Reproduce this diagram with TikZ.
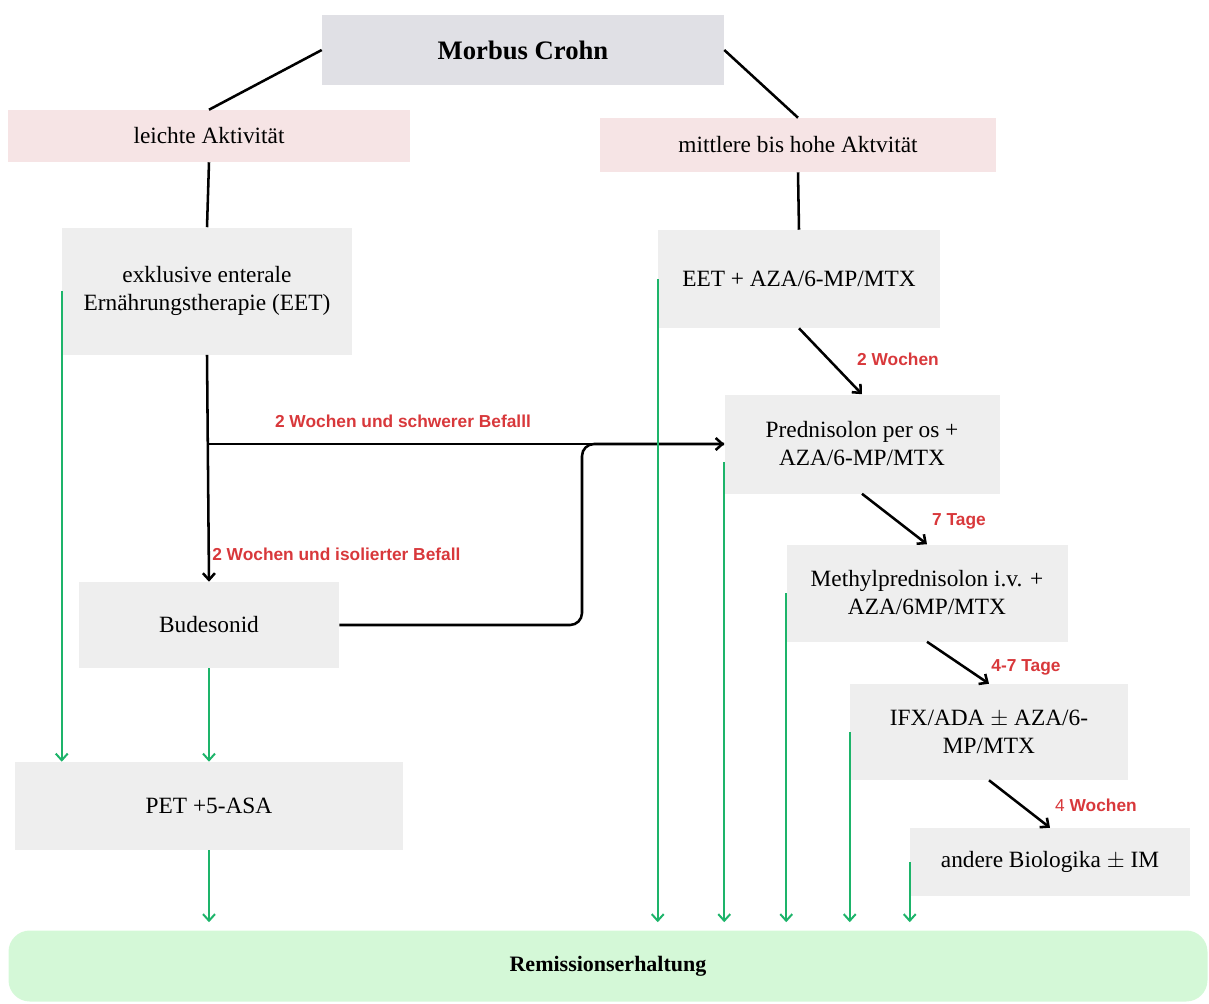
\documentclass[tikz,border=0pt]{standalone}
\usepackage{fontspec}
\setmainfont{Liberation Serif}
\newfontfamily\lblfont{Liberation Sans}
\usetikzlibrary{arrows.meta,positioning}
\definecolor{boxgray}{HTML}{EEEEEE}
\definecolor{headgray}{HTML}{E0E0E5}
\definecolor{actpink}{HTML}{F6E4E5}
\definecolor{remgreen}{HTML}{D4F8D7}
\definecolor{arrgreen}{HTML}{1DB46A}
\definecolor{lblred}{HTML}{D8383B}

\begin{document}
\begin{tikzpicture}[x=0.75pt,y=-0.75pt,
    box/.style={fill=boxgray, align=center, inner sep=0pt, font=\fontsize{17.5}{21}\selectfont},
    actbox/.style={box, fill=actpink},
    lbl/.style={text=lblred, font=\lblfont\fontsize{13}{15}\selectfont\bfseries, inner sep=0pt},
    link/.style={line width=1.9pt},
    arr/.style={link, -{Straight Barb[length=5pt,width=9pt]}},
    garr/.style={line width=1.5pt, arrgreen, -{Straight Barb[length=5pt,width=9pt]}}]
  \useasboundingbox (0,0) rectangle (1209,1003);
  % top and activity levels
  \node[box, fill=headgray, minimum width=0.75*402, minimum height=0.75*70,
        font=\fontsize{20}{24}\selectfont\bfseries] (mc) at (523,50) {Morbus Crohn};
  \node[actbox, minimum width=0.75*402, minimum height=0.75*52] (la) at (209,136) {leichte Aktivität};
  \node[actbox, minimum width=0.75*396, minimum height=0.75*54] (ma) at (798,145) {mittlere bis hohe Aktvität};
  % therapy boxes
  \node[box, minimum width=0.75*290, minimum height=0.75*127] (eet) at (207,291) {exklusive enterale\\Ernährungstherapie (EET)};
  \node[box, minimum width=0.75*282, minimum height=0.75*98] (eaz) at (799,279) {EET + AZA/6-MP/MTX};
  \node[box, minimum width=0.75*260, minimum height=0.75*86] (bud) at (209,625) {Budesonid};
  \node[box, minimum width=0.75*275, minimum height=0.75*99] (pred) at (862,444) {Prednisolon per os +\\AZA/6-MP/MTX};
  \node[box, minimum width=0.75*281, minimum height=0.75*97] (meth) at (927,593) {Methylprednisolon i.v. +\\AZA/6MP/MTX};
  \node[box, minimum width=0.75*278, minimum height=0.75*96] (ifx) at (989,732) {IFX/ADA $\pm$ AZA/6-\\MP/MTX};
  \node[box, minimum width=0.75*280, minimum height=0.75*68] (bio) at (1050,862) {andere Biologika $\pm$ IM};
  \node[box, minimum width=0.75*388, minimum height=0.75*88] (pet) at (209,806) {PET +5-ASA};
  \node[box, fill=remgreen, rounded corners=16, minimum width=0.75*1199, minimum height=0.75*71,
        font=\fontsize{16.5}{20}\selectfont\bfseries] (rem) at (608,966) {Remissionserhaltung};
  % black connectors
  \draw[link] (mc.west) -- (la.north);
  \draw[link] (mc.east) -- (ma.north);
  \draw[link] (la.south) -- (eet.north);
  \draw[link] (ma.south) -- (eaz.north);
  \draw[arr] (eet.south) -- (bud.north);
  \draw[arr] (eet.south |- pred.west) -- (pred.west);
  \coordinate (jog) at (582,625);
  \draw[link, rounded corners=9] (bud.east) -- (jog) -- (jog |- pred.west) -- (pred.west);
  \draw[arr] (eaz.south) -- (pred.north);
  \draw[arr] (pred.south) -- (meth.north);
  \draw[arr] (meth.south) -- (ifx.north);
  \draw[arr] (ifx.south) -- (bio.north);
  % labels
  \node[lbl] (l1) at (403,421) {2 Wochen und schwerer Befalll};
  \node[lbl, anchor=west] (l2) at (212,554) {2 Wochen und isolierter Befall};
  \node[lbl] (l3) at (898,359) {2 Wochen};
  \node[lbl] (l4) at (959,521) {7 Tage};
  \node[lbl] (l5) at (1026,667) {4-7 Tage};
  \node[lbl] (l6) at (1096,805) {\mdseries 4 \bfseries Wochen};
  % green connectors
  \draw[garr] (eet.west) -- (eet.west |- pet.north);
  \draw[garr] (bud.south) -- (pet.north);
  \draw[garr, shorten >=6pt] (pet.south) -- (rem.north -| pet.south);
  \draw[garr, shorten >=6pt] ([yshift=-13.5pt]pred.west) -- (rem.north -| pred.west);
  \foreach \n in {eaz,meth,ifx,bio}
    \draw[garr, shorten >=6pt] (\n.west) -- (rem.north -| \n.west);
\end{tikzpicture}
\end{document}
